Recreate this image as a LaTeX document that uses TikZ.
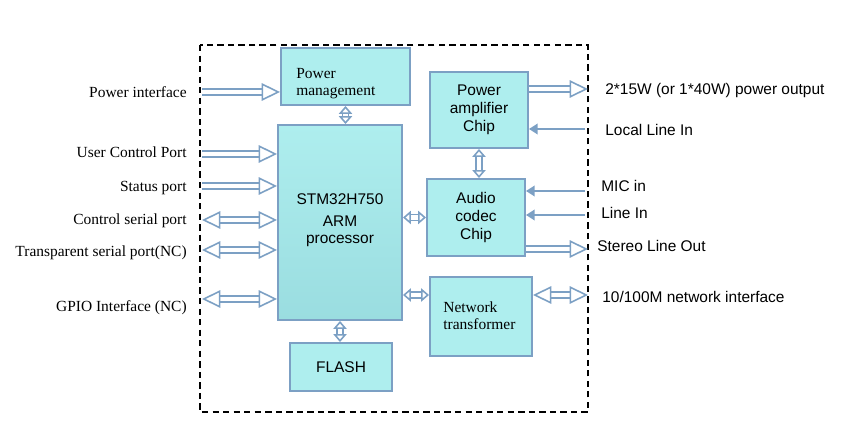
\documentclass[tikz,border=0pt]{standalone}
\usepackage{fontspec}
\setmainfont{Liberation Serif}
\setsansfont{Liberation Sans}
\usetikzlibrary{arrows.meta}

\definecolor{chipcyan}{RGB}{174,238,238}
\definecolor{chipdark}{RGB}{154,221,224}
\definecolor{linkblue}{RGB}{124,160,196}

\tikzset{
  bighead/.tip = {Triangle[open, fill=white, length=10.5pt, width=10pt, line width=0.9pt]},
  smallhead/.tip = {Triangle[open, fill=white, length=4.5pt, width=7.5pt, line width=0.9pt]}
}

\begin{document}
\begin{tikzpicture}[x=0.02cm, y=-0.02cm,
    chip/.style = {draw=linkblue, fill=chipcyan, line width=1.1pt, inner sep=0pt, align=center,
                   font=\sffamily\fontsize{8.8}{10.2}\selectfont},
    lbl/.style = {anchor=east, inner sep=0pt, font=\fontsize{8.8}{10}\selectfont},
    port/.style = {anchor=west, inner sep=0pt, font=\sffamily\fontsize{8.8}{10}\selectfont},
    hollow/.style = {draw=linkblue, line width=0.9pt, double=white, double distance=2.6pt},
    feed/.style = {draw=linkblue, line width=1.2pt, -{Triangle[length=5pt, width=6pt]}}]

    \useasboundingbox (0,0) rectangle (852,428);

    % module outline
    \draw[line width=1.1pt, dash pattern=on 3.6pt off 2.4pt] (200,45) rectangle (588,412);

    % blocks
    \node[chip, minimum width=2.58cm, minimum height=1.14cm] (pm) at (345.5,76.5) {};
    \node[align=left, inner sep=0pt, anchor=west, font=\fontsize{8.8}{9.6}\selectfont] (pmtxt) at (296,84) {Power\\management};
    \node[chip, top color=chipcyan, bottom color=chipdark, minimum width=2.48cm, minimum height=3.9cm] (arm) at (340,222.5) {};
    \node[align=center, inner sep=0pt, font=\sffamily\fontsize{8.8}{10}\selectfont] (armtxt) at (340,220) {STM32H750\\[3pt]ARM\\[-0.5pt]processor};
    \node[chip, minimum width=1.96cm, minimum height=1.52cm] (amp) at (479,110) {Power\\amplifier\\Chip};
    \node[chip, minimum width=1.96cm, minimum height=1.54cm] (codec) at (476,217.5) {Audio\\codec\\Chip};
    \node[chip, minimum width=2.04cm, minimum height=1.58cm] (net) at (481,316.5) {};
    \node[align=left, inner sep=0pt, anchor=west, font=\fontsize{8.8}{9.6}\selectfont] (nettxt) at (443,316) {Network\\transformer};
    \node[chip, minimum width=2.04cm, minimum height=0.96cm] (flash) at (341,367) {FLASH};

    % outside ends
    \coordinate (pwrin) at (202,92);
    \coordinate (userin) at (202,154);
    \coordinate (statin) at (202,186);
    \coordinate (ctrlio) at (202,220);
    \coordinate (trnio) at (202,250);
    \coordinate (gpio) at (202,299);
    \coordinate (pout) at (588,89);
    \coordinate (llin) at (585,129);
    \coordinate (micin) at (585,191);
    \coordinate (linein) at (585,215);
    \coordinate (sout) at (588,249);
    \coordinate (netio) at (588,295);

    % left side
    \node[lbl] (l1) at (187,92) {Power interface};
    \node[lbl] (l2) at (187,152) {User Control Port};
    \node[lbl] (l3) at (187,188) {Status port};
    \node[lbl] (l4) at (187,221) {Control serial port};
    \node[lbl] (l5) at (187,253) {Transparent serial port(NC)};
    \node[lbl] (l6) at (187,308) {GPIO Interface (NC)};

    \draw[hollow, -{bighead}] (pwrin) -- (pwrin -| pm.west);
    \draw[hollow, -{bighead}] (userin) -- (userin -| arm.west);
    \draw[hollow, -{bighead}] (statin) -- (statin -| arm.west);
    \draw[hollow, {bighead}-{bighead}] (ctrlio) -- (ctrlio -| arm.west);
    \draw[hollow, {bighead}-{bighead}] (trnio) -- (trnio -| arm.west);
    \draw[hollow, {bighead}-{bighead}] (gpio) -- (gpio -| arm.west);

    % inner links
    \draw[hollow, {smallhead}-{smallhead}] (pm.south) -- (pm.south |- arm.north);
    \draw[hollow, {smallhead}-{smallhead}] (arm.south) -- (arm.south |- flash.north);
    \draw[hollow, {smallhead}-{smallhead}] (amp.south) -- (amp.south |- codec.north);
    \draw[hollow, {smallhead}-{smallhead}] (codec.west) -- (codec.west -| arm.east);
    \draw[hollow, {smallhead}-{smallhead}] (netio -| arm.east) -- (netio -| net.west);

    % right side
    \draw[hollow, -{bighead}] (pout -| amp.east) -- (pout);
    \draw[feed] (llin) -- (llin -| amp.east);
    \draw[feed] (micin) -- (micin -| codec.east);
    \draw[feed] (linein) -- (linein -| codec.east);
    \draw[hollow, -{bighead}] (sout -| codec.east) -- (sout);
    \draw[hollow, {bighead}-{bighead}] (netio -| net.east) -- (netio);

    \node[port] (r1) at (605,91) {2*15W (or 1*40W) power output};
    \node[port] (r2) at (605,130) {Local Line In};
    \node[port] (r3) at (601,186) {MIC in};
    \node[port] (r4) at (601,213) {Line In};
    \node[port] (r5) at (597,246) {Stereo Line Out};
    \node[port] (r6) at (602,297) {10/100M network interface};
\end{tikzpicture}
\end{document}
